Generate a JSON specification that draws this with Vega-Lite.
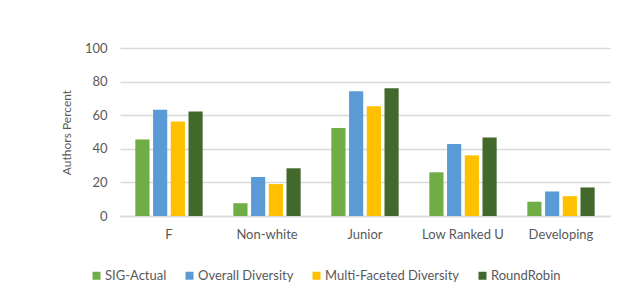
{
  "$schema": "https://vega.github.io/schema/vega-lite/v6.json",
  "autosize": "none",
  "width": 490,
  "height": 168,
  "padding": {"left": 120, "top": 48, "right": 30, "bottom": 92},
  "background": "white",
  "data": {"values": [
    {"cat": "F", "series": "SIG-Actual", "v": 45.5},
    {"cat": "F", "series": "Overall Diversity", "v": 63.2},
    {"cat": "F", "series": "Multi-Faceted Diversity", "v": 56.3},
    {"cat": "F", "series": "RoundRobin", "v": 62.2},
    {"cat": "Non-white", "series": "SIG-Actual", "v": 7.6},
    {"cat": "Non-white", "series": "Overall Diversity", "v": 23.2},
    {"cat": "Non-white", "series": "Multi-Faceted Diversity", "v": 19.0},
    {"cat": "Non-white", "series": "RoundRobin", "v": 28.4},
    {"cat": "Junior", "series": "SIG-Actual", "v": 52.4},
    {"cat": "Junior", "series": "Overall Diversity", "v": 74.2},
    {"cat": "Junior", "series": "Multi-Faceted Diversity", "v": 65.4},
    {"cat": "Junior", "series": "RoundRobin", "v": 76.0},
    {"cat": "Low Ranked U", "series": "SIG-Actual", "v": 26.0},
    {"cat": "Low Ranked U", "series": "Overall Diversity", "v": 42.8},
    {"cat": "Low Ranked U", "series": "Multi-Faceted Diversity", "v": 36.1},
    {"cat": "Low Ranked U", "series": "RoundRobin", "v": 46.8},
    {"cat": "Developing", "series": "SIG-Actual", "v": 8.5},
    {"cat": "Developing", "series": "Overall Diversity", "v": 14.6},
    {"cat": "Developing", "series": "Multi-Faceted Diversity", "v": 11.8},
    {"cat": "Developing", "series": "RoundRobin", "v": 17.0}
  ]},
  "mark": {"type": "bar"},
  "encoding": {
    "x": {
      "field": "cat", "type": "nominal",
      "sort": ["F", "Non-white", "Junior", "Low Ranked U", "Developing"],
      "scale": {"paddingInner": 0.313, "paddingOuter": 0.1565},
      "axis": {"title": null, "labelAngle": 0, "ticks": false, "labelPadding": 12, "domainColor": "#d9d9d9", "domainWidth": 1.5}
    },
    "xOffset": {
      "field": "series", "type": "nominal",
      "sort": ["SIG-Actual", "Overall Diversity", "Multi-Faceted Diversity", "RoundRobin"],
      "scale": {"paddingInner": 0.2, "paddingOuter": 0}
    },
    "y": {
      "field": "v", "type": "quantitative",
      "scale": {"domain": [0, 100]},
      "axis": {"title": "Authors Percent", "values": [0, 20, 40, 60, 80, 100], "ticks": false, "domain": false, "labelPadding": 13, "titlePadding": 11, "gridColor": "#d9d9d9", "gridWidth": 1.5}
    },
    "color": {
      "field": "series", "type": "nominal",
      "sort": ["SIG-Actual", "Overall Diversity", "Multi-Faceted Diversity", "RoundRobin"],
      "scale": {"domain": ["SIG-Actual", "Overall Diversity", "Multi-Faceted Diversity", "RoundRobin"], "range": ["#70AD47", "#5B9BD5", "#FFC000", "#43682B"]},
      "legend": {"title": null, "orient": "none", "direction": "horizontal", "legendX": -30, "legendY": 221, "symbolType": "square", "symbolSize": 64, "symbolStrokeWidth": 0, "labelOffset": 2, "columnPadding": 16}
    }
  },
  "config": {
    "font": "Lato",
    "view": {"stroke": null},
    "axis": {"labelFont": "Lato", "labelFontSize": 13, "labelColor": "#595959", "titleFont": "Lato", "titleFontSize": 12, "titleFontWeight": "normal", "titleColor": "#595959"},
    "legend": {"labelFont": "Lato", "labelFontSize": 13, "labelColor": "#595959"}
  }
}
